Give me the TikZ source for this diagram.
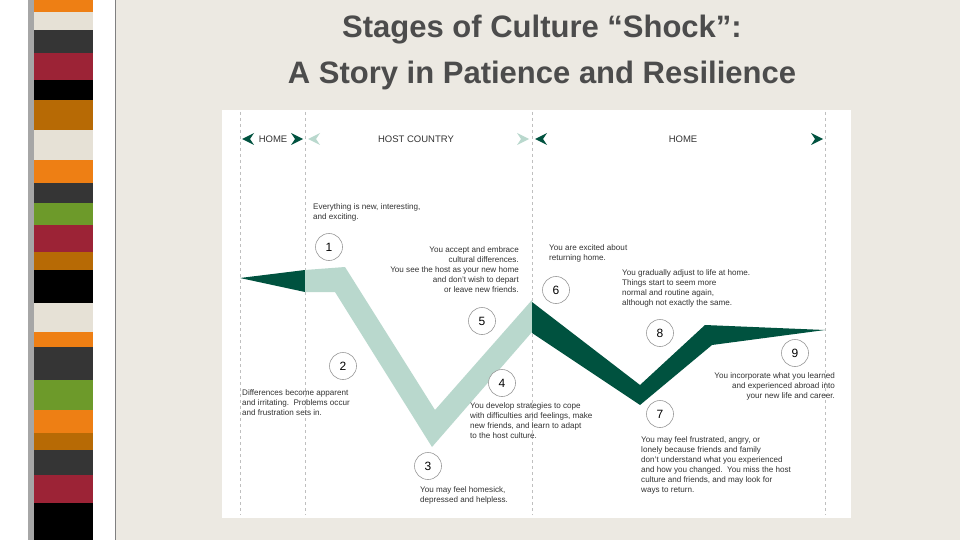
\documentclass[tikz,border=0pt]{standalone}
\usepackage{fontspec}
\setmainfont{Liberation Sans}
\begin{document}
\begin{tikzpicture}[x=1pt,y=-1pt,
  circ/.style={circle,draw=black!40,fill=white,line width=0.6pt,minimum size=27pt,inner sep=0pt,font=\fontsize{12}{12}\selectfont},
  txt/.style={font=\fontsize{8.1}{10}\selectfont,text=black!80,inner sep=0pt},
  dline/.style={draw=black!25,dashed,line width=0.6pt},
  hdr/.style={font=\fontsize{9.5}{10}\selectfont,text=black!80},
  title/.style={font=\fontsize{31}{31}\selectfont\bfseries,text=black!70}]
\definecolor{bg}{HTML}{ECE9E2}
\definecolor{dk}{HTML}{00523F}
\definecolor{lt}{HTML}{B9D8CD}
\definecolor{cO}{HTML}{EE7F14}\definecolor{cC}{HTML}{E6E1D6}\definecolor{cD}{HTML}{353535}
\definecolor{cR}{HTML}{9C2336}\definecolor{cB}{HTML}{B76A05}\definecolor{cG}{HTML}{6D9A2A}
\fill[bg] (0,0) rectangle (960,540);
\useasboundingbox (0,0) rectangle (960,540);
\fill[white] (0,0) rectangle (115,540);
\fill[black!35] (28,0) rectangle (36,540);
\foreach \a/\b/\c in {0/12/cO,12/30/cC,30/53/cD,53/80/cR,80/100/black,100/130/cB,130/160/cC,160/183/cO,183/203/cD,203/225/cG,225/252/cR,252/270/cB,270/303/black,303/332/cC,332/347/cO,347/380/cD,380/410/cG,410/433/cO,433/450/cB,450/475/cD,475/503/cR,503/540/black}
  \fill[\c] (34,\a) rectangle (93,\b);
\draw[black!50,line width=0.8pt] (115,0) -- (115,540);
\node[title] (t1) at (542,30) {Stages of Culture “Shock”:};
\node[title] (t2) at (542,75) {A Story in Patience and Resilience};
\fill[white] (222,110) rectangle (851,518);
\foreach \x in {240,305,532,825} \draw[dline] (\x,112) -- (\x,515);
% bands
\fill[dk] (240,278) -- (305,270) -- (305,292) -- cycle;
\fill[lt] (305,270) -- (345,267) -- (435,410) -- (532,300) -- (532,332) -- (432,447) -- (335,292) -- (305,292) -- cycle;
\fill[dk] (532,302) -- (640,385) -- (705,325) -- (825,330) -- (712,345) -- (640,405) -- (532,333) -- cycle;
% headers
\node[hdr] (h1) at (273,139) {HOME};
\node[hdr] (h2) at (416,139) {HOST COUNTRY};
\node[hdr] (h3) at (683,139) {HOME};
\fill[dk] (242,139) -- (254,133) -- (250,139) -- (254,145) -- cycle;
\fill[dk] (303,139) -- (291,133) -- (295,139) -- (291,145) -- cycle;
\fill[lt] (308,139) -- (320,133) -- (316,139) -- (320,145) -- cycle;
\fill[lt] (529,139) -- (517,133) -- (521,139) -- (517,145) -- cycle;
\fill[dk] (535,139) -- (547,133) -- (543,139) -- (547,145) -- cycle;
\fill[dk] (823,139) -- (811,133) -- (815,139) -- (811,145) -- cycle;
% circles
\foreach \n/\x/\y in {1/329/247,2/343/366,3/428/466,4/502/383,5/482/321,6/556/290,7/660/414,8/660/333,9/795/353}
  \node[circ] (c\n) at (\x,\y) {\n};
% texts
\node[txt,align=left,anchor=north west] (x1) at (313,203) {Everything is new, interesting,\\and exciting.};
\node[txt,align=right,anchor=north east] (x5) at (519,246) {You accept and embrace\\cultural differences.\\You see the host as your new home\\and don't wish to depart\\or leave new friends.};
\node[txt,align=left,anchor=north west] (x2) at (242,389) {Differences become apparent\\and irritating.\ \ Problems occur\\and frustration sets in.};
\node[txt,align=left,anchor=north west] (x3) at (420,486) {You may feel homesick,\\depressed and helpless.};
\node[txt,align=left,anchor=north west] (x4) at (470,402) {You develop strategies to cope\\with difficulties and feelings, make\\new friends, and learn to adapt\\to the host culture.};
\node[txt,align=left,anchor=north west] (x6) at (549,244) {You are excited about\\returning home.};
\node[txt,align=left,anchor=north west] (x8) at (622,269) {You gradually adjust to life at home.\\Things start to seem more\\normal and routine again,\\although not exactly the same.};
\node[txt,align=right,anchor=north east] (x9) at (835,372) {You incorporate what you learned\\and experienced abroad into\\your new life and career.};
\node[txt,align=left,anchor=north west] (x7) at (641,436) {You may feel frustrated, angry, or\\lonely because friends and family\\don't understand what you experienced\\and how you changed.\ \ You miss the host\\culture and friends, and may look for\\ways to return.};
\end{tikzpicture}
\end{document}
